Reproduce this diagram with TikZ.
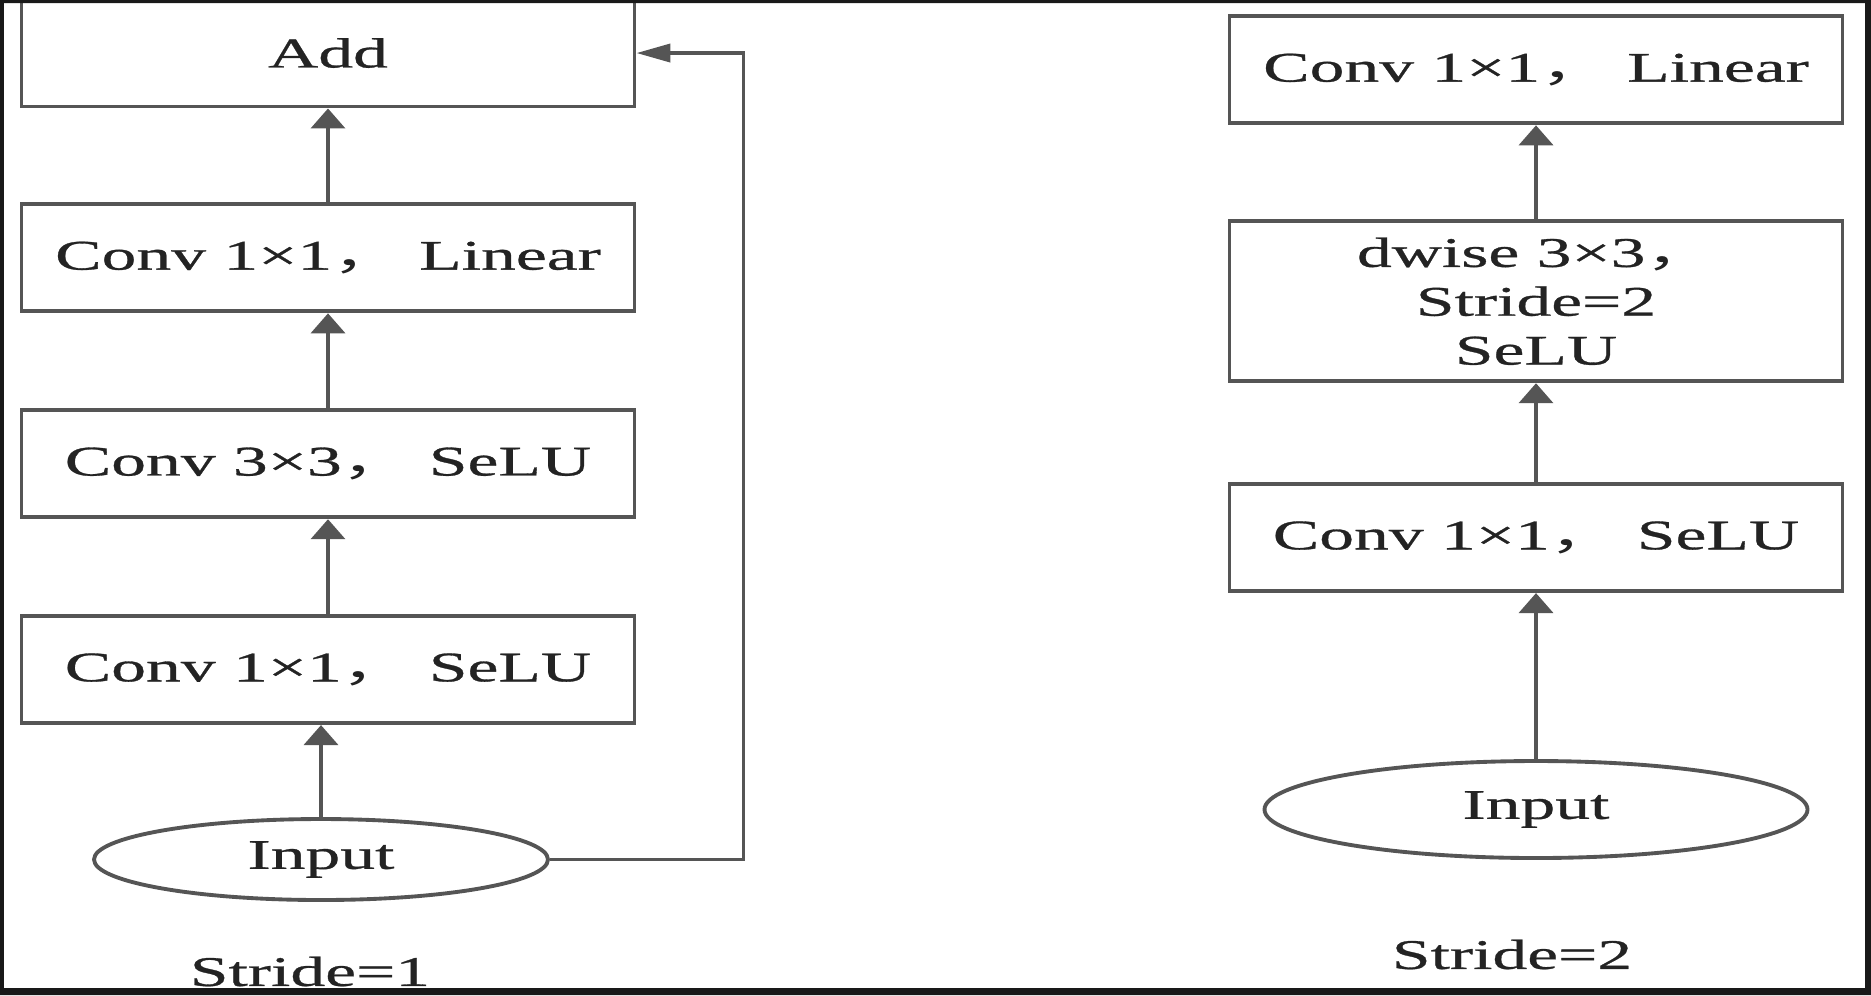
\documentclass[tikz,border=0pt]{standalone}
\usepackage{fontspec}
\setmainfont{Liberation Serif}[FakeStretch=1.65,FakeBold=0.7]
\newfontfamily\cjk{Noto Sans CJK SC}[FakeStretch=1.65]
\usetikzlibrary{arrows.meta,positioning,shapes.geometric}
\definecolor{linegray}{RGB}{85,85,85}
\definecolor{textgray}{RGB}{35,35,35}

\begin{document}
\begin{tikzpicture}[>={Triangle[length=0.2cm,width=0.34cm]},
    block/.style={draw=linegray, line width=1.1pt, align=center, inner sep=0pt, minimum width=6.13cm, minimum height=1.07cm, text=textgray, font=\fontsize{12}{13.9}\selectfont},
    tallblock/.style={block, minimum height=1.60cm},
    inputnode/.style={draw=linegray, line width=1.1pt, ellipse, inner sep=0pt, text=textgray, font=\fontsize{12}{13.9}\selectfont},
    caption/.style={inner sep=0pt, text=textgray, font=\fontsize{12}{13.9}\selectfont},
    flow/.style={->, draw=linegray, line width=1.1pt},
    skipflow/.style={-{Triangle[length=0.34cm,width=0.18cm]}, draw=linegray, line width=1.1pt}]
    \useasboundingbox (0,0) rectangle (18.71,-9.95);
    \fill[white] (0,0) rectangle (18.71,-9.95);
    % Stride=1 block (with shortcut)
    \node[inputnode, minimum width=4.54cm, minimum height=0.81cm] (in1) at (3.21,-8.595) {Input};
    \node[block, above=0.92cm of in1, xshift=0.07cm] (sel1) {Conv 1×1{\cjk ，} SeLU};
    \node[block, above=0.95cm of sel1] (conv3) {Conv 3×3{\cjk ，} SeLU};
    \node[block, above=0.95cm of conv3] (lin1) {Conv 1×1{\cjk ，} Linear};
    \node[block, above=0.94cm of lin1] (add) {Add};
    \node[caption, below=0.54cm of in1, xshift=-0.11cm] (s1) {Stride=1};
    % Stride=2 block
    \node[inputnode, minimum width=5.43cm, minimum height=0.97cm] (in2) at (15.36,-8.095) {Input};
    \node[block, above=1.66cm of in2] (sel2) {Conv 1×1{\cjk ，} SeLU};
    \node[tallblock, above=0.99cm of sel2] (dw) {dwise 3×3{\cjk ，}\\Stride=2\\SeLU};
    \node[block, above=0.94cm of dw] (lin2) {Conv 1×1{\cjk ，} Linear};
    \node[caption, below=0.79cm of in2, xshift=-0.24cm] (s2) {Stride=2};
    % Arrows
    \draw[flow] (in1.north) -- (in1.north |- sel1.south);
    \draw[flow] (sel1) -- (conv3);
    \draw[flow] (conv3) -- (lin1);
    \draw[flow] (lin1) -- (add);
    \draw[skipflow] (in1.east) -| ([xshift=1.07cm]add.east) -- (add.east);
    \draw[flow] (in2) -- (sel2);
    \draw[flow] (sel2) -- (dw);
    \draw[flow] (dw) -- (lin2);
    % Frame
    \fill[black!90, even odd rule] (0,0) rectangle (18.71,-9.95) (0.04,-0.03) rectangle (18.65,-9.88);
\end{tikzpicture}
\end{document}
